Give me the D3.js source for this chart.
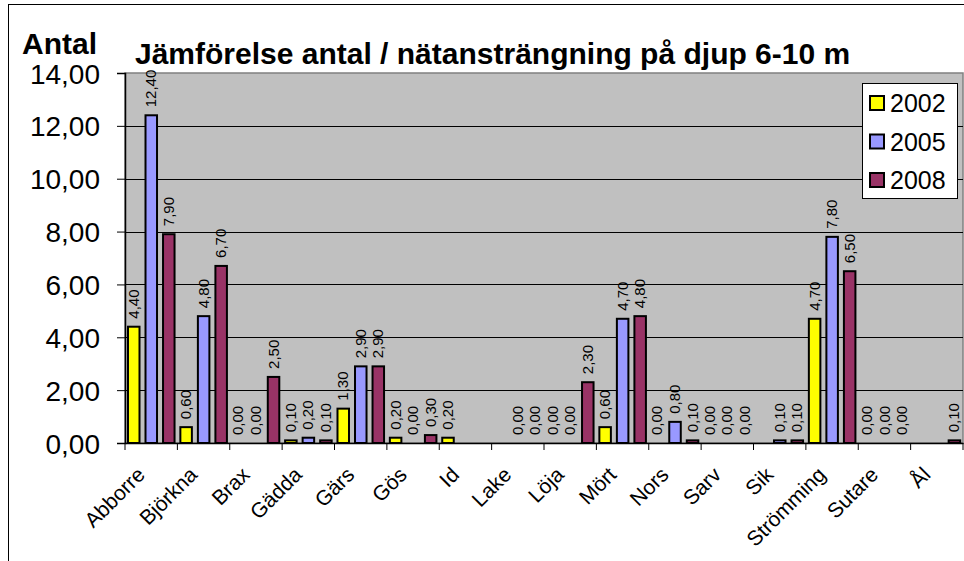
<!DOCTYPE html>
<html>
<head>
<meta charset="utf-8">
<script src="https://cdn.jsdelivr.net/npm/d3@7"></script>
<style>
  body { margin: 0; background: #fff; }
  svg { display: block; font-family: Arial, "Liberation Sans", sans-serif; }
</style>
</head>
<body>
<div id="chart"></div>
<script>
const WIDTH = 964
const HEIGHT = 561

const categories = ["Abborre", "Björkna", "Brax", "Gädda", "Gärs", "Gös", "Id", "Lake",
    "Löja", "Mört", "Nors", "Sarv", "Sik", "Strömming", "Sutare", "Ål"]
const years = ["2002", "2005", "2008"]
const colors = ["#FFFF00", "#9999FF", "#993366"]
// null = no value in the sheet (no bar, no label)
const v2002 = [4.4, 0.6, 0.0, 0.1, 1.3, 0.2, 0.2, null, 0.0, 0.6, 0.0, 0.0, null, 4.7, 0.0, null]
const v2005 = [12.4, 4.8, 0.0, 0.2, 2.9, 0.0, null, 0.0, 0.0, 4.7, 0.8, 0.0, 0.1, 7.8, 0.0, null]
const v2008 = [7.9, 6.7, 2.5, 0.1, 2.9, 0.3, null, 0.0, 2.3, 4.8, 0.1, 0.0, 0.1, 6.5, 0.0, 0.1]
const yTicks = [0, 2, 4, 6, 8, 10, 12, 14]

const series = [v2002, v2005, v2008]
const fmt = v => v.toFixed(2).replace(".", ",")

const plot = { left: 125, right: 963, top: 73, bottom: 443 }

const svg = d3.select("#chart").append("svg")
    .attr("width", WIDTH)
    .attr("height", HEIGHT)

// outer frame of the chart object (cut off at right/bottom)
svg.append("rect")
    .attr("x", 8.5).attr("y", 4.5)
    .attr("width", WIDTH + 10).attr("height", HEIGHT + 10)
    .attr("fill", "#fff").attr("stroke", "#000").attr("stroke-width", 1)

const x = d3.scaleBand().domain(categories).range([plot.left, plot.right])
const xs = d3.scaleBand().domain(years)
    .range([x.bandwidth() * 0.057, x.bandwidth() * 0.946])
    .paddingInner(0.343)
const y = d3.scaleLinear().domain([0, 14]).range([plot.bottom, plot.top])

// plot area
svg.append("rect")
    .attr("x", plot.left).attr("y", plot.top)
    .attr("width", plot.right - plot.left).attr("height", plot.bottom - plot.top)
    .attr("fill", "#C0C0C0").attr("stroke", "#808080").attr("stroke-width", 1.5)

// gridlines
svg.append("g")
    .selectAll("line")
    .data(yTicks.slice(1, -1))
    .join("line")
    .attr("x1", plot.left).attr("x2", plot.right)
    .attr("y1", d => Math.round(y(d)) + 0.5).attr("y2", d => Math.round(y(d)) + 0.5)
    .attr("stroke", "#000").attr("stroke-width", 1)

// y axis
const yAxis = svg.append("g")
    .attr("transform", `translate(${plot.left},0)`)
    .call(d3.axisLeft(y).tickValues(yTicks).tickFormat(fmt).tickSize(8).tickPadding(17))
yAxis.select(".domain").attr("stroke", "#000").attr("stroke-width", 1.5)
yAxis.selectAll("text").attr("font-size", 28).attr("fill", "#000").attr("dy", "0.36em")
yAxis.selectAll("line").attr("stroke", "#000")

// x axis
const xAxis = svg.append("g")
    .attr("transform", `translate(0,${plot.bottom})`)
    .call(d3.axisBottom(x).tickSize(0).tickFormat(""))
xAxis.select(".domain").attr("stroke", "#000").attr("stroke-width", 1.5)
xAxis.selectAll(".sep")
    .data(categories.concat(["end"]))
    .join("line")
    .attr("class", "sep")
    .attr("x1", (d, i) => plot.left + i * x.step()).attr("x2", (d, i) => plot.left + i * x.step())
    .attr("y1", 0).attr("y2", 7)
    .attr("stroke", "#000")

svg.append("g")
    .selectAll("text")
    .data(categories)
    .join("text")
    .attr("transform", d => `translate(${x(d) + x.bandwidth() / 2 - 5},${plot.bottom + 33}) rotate(-45)`)
    .attr("text-anchor", "end")
    .attr("font-size", 21)
    .text(d => d)

// bars
const groups = svg.append("g")
    .selectAll("g")
    .data(categories)
    .join("g")
    .attr("transform", d => `translate(${x(d)},0)`)

const cells = groups.selectAll("g")
    .data((d, i) => series.map((s, j) => ({ year: years[j], value: s[i], color: colors[j] })).filter(c => c.value !== null))
    .join("g")

cells.filter(d => d.value > 0)
    .append("rect")
    .attr("x", d => xs(d.year))
    .attr("y", d => y(d.value))
    .attr("width", xs.bandwidth())
    .attr("height", d => y(0) - y(d.value))
    .attr("fill", d => d.color)
    .attr("stroke", "#000")
    .attr("stroke-width", 2)

cells.append("text")
    .attr("transform", d => `translate(${xs(d.year) + xs.bandwidth() / 2 + 5},${y(d.value) - 8}) rotate(-90)`)
    .attr("font-size", 15)
    .text(d => fmt(d.value))

// titles
svg.append("text")
    .attr("x", 22).attr("y", 54)
    .attr("font-size", 30).attr("font-weight", "bold")
    .text("Antal")

svg.append("text")
    .attr("x", 135).attr("y", 64)
    .attr("font-size", 30).attr("font-weight", "bold")
    .text("Jämförelse antal / nätansträngning på djup 6-10 m")

// legend
const legend = svg.append("g").attr("transform", "translate(862,83)")
legend.append("rect")
    .attr("x", 0.5).attr("y", 0.5).attr("width", 95).attr("height", 115)
    .attr("fill", "#fff").attr("stroke", "#000")
const item = legend.selectAll(".item")
    .data(years)
    .join("g")
    .attr("class", "item")
    .attr("transform", (d, i) => `translate(8,${20 + i * 38.5})`)
item.append("rect")
    .attr("x", 0).attr("y", -7).attr("width", 14).attr("height", 14)
    .attr("fill", (d, i) => colors[i]).attr("stroke", "#000").attr("stroke-width", 2)
item.append("text")
    .attr("x", 20).attr("dy", "0.36em")
    .attr("font-size", 25)
    .text(d => d)
</script>
</body>
</html>
